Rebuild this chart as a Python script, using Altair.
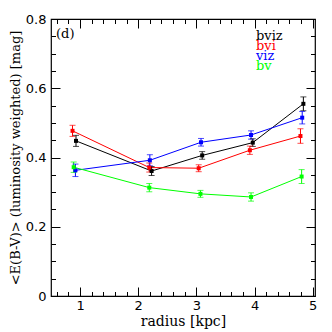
import altair as alt
import pandas as pd

series = ["bviz", "bvi", "viz", "bv"]
colors = ["#000000", "#ff0000", "#0000ff", "#00ff00"]

radius_bviz = [0.93, 2.23, 3.10, 3.97, 4.84]
ebv_bviz = [0.448, 0.361, 0.406, 0.443, 0.555]
err_bviz = [0.016, 0.013, 0.011, 0.011, 0.020]

radius_bvi = [0.87, 2.19, 3.04, 3.92, 4.79]
ebv_bvi = [0.477, 0.371, 0.369, 0.421, 0.462]
err_bvi = [0.016, 0.013, 0.010, 0.012, 0.021]

radius_viz = [0.92, 2.20, 3.08, 3.94, 4.82]
ebv_viz = [0.363, 0.392, 0.444, 0.465, 0.515]
err_viz = [0.018, 0.016, 0.011, 0.012, 0.018]

radius_bv = [0.89, 2.19, 3.07, 3.94, 4.81]
ebv_bv = [0.372, 0.313, 0.295, 0.286, 0.345]
err_bv = [0.015, 0.012, 0.010, 0.012, 0.020]

x_ticks = [round(0.6 + 0.2 * i, 2) for i in range(23)]
y_ticks = [round(0.05 * i, 2) for i in range(17)]

rows = []
for name, rr, yy, ee in [("bviz", radius_bviz, ebv_bviz, err_bviz),
                         ("bvi", radius_bvi, ebv_bvi, err_bvi),
                         ("viz", radius_viz, ebv_viz, err_viz),
                         ("bv", radius_bv, ebv_bv, err_bv)]:
    for i, (r, v, e) in enumerate(zip(rr, yy, ee)):
        rows.append({"series": name, "order": i, "radius": r, "ebv": v,
                     "lo": v - e, "hi": v + e})
df = pd.DataFrame(rows)

FONT = "DejaVu Serif"
xdom = [0.5, 5.04]
ydom = [0.0, 0.8]

x_major = "abs(datum.value - round(datum.value)) < 0.01"
y_major = "abs(datum.value*5 - round(datum.value*5)) < 0.01"

xs = alt.Scale(domain=xdom, nice=False, zero=False)
ys = alt.Scale(domain=ydom, nice=False, zero=False)
cs = alt.Scale(domain=series, range=colors)

x_axis = alt.Axis(values=x_ticks, title="radius [kpc]", grid=False, domain=False,
                  tickSize=alt.ExprRef(f"{x_major} ? -9 : -4.5"), tickColor="black",
                  labelPadding=12, labelFont="DejaVu Sans", labelFontSize=13,
                  labelColor="black",
                  labelExpr=f"{x_major} ? format(datum.value, 'd') : ''",
                  titleFont=FONT, titleFontSize=14, titleFontWeight="normal",
                  titleColor="black", titlePadding=2)
y_axis = alt.Axis(values=y_ticks, title="<E(B-V)> (luminosity weighted) [mag]",
                  grid=False, domain=False,
                  tickSize=alt.ExprRef(f"{y_major} ? -9 : -4.5"), tickColor="black",
                  labelPadding=14, labelFont="DejaVu Sans", labelFontSize=13,
                  labelColor="black",
                  labelExpr=f"{y_major} ? (datum.value == 0 ? '0' : format(datum.value, '.1f')) : ''",
                  titleFont=FONT, titleFontSize=13, titleFontWeight="normal",
                  titleColor="black", titlePadding=3)

base = alt.Chart(df)

lines = base.mark_line(strokeWidth=1).encode(
    x=alt.X("radius:Q", scale=xs, axis=x_axis),
    y=alt.Y("ebv:Q", scale=ys, axis=y_axis),
    color=alt.Color("series:N", scale=cs, legend=None),
    order="order:Q",
    detail="series:N",
)

mirror = base.mark_point(opacity=0).encode(
    x=alt.X("radius:Q", scale=xs, axis=alt.Axis(
        orient="top", values=x_ticks, title=None, labels=False, grid=False, domain=False,
        tickColor="black", tickSize=alt.ExprRef(f"{x_major} ? -9 : -4.5"))),
    y=alt.Y("ebv:Q", scale=ys, axis=alt.Axis(
        orient="right", values=y_ticks, title=None, labels=False, grid=False, domain=False,
        tickColor="black", tickSize=alt.ExprRef(f"{y_major} ? -9 : -4.5"))),
)

bars = base.mark_rule(strokeWidth=1).encode(
    x=alt.X("radius:Q", scale=xs, axis=None),
    y=alt.Y("lo:Q", scale=ys, axis=None),
    y2="hi:Q",
    color=alt.Color("series:N", scale=cs, legend=None),
)
cap_lo = base.mark_tick(orient="horizontal", size=6, thickness=1).encode(
    x=alt.X("radius:Q", scale=xs, axis=None),
    y=alt.Y("lo:Q", scale=ys, axis=None),
    color=alt.Color("series:N", scale=cs, legend=None),
)
cap_hi = base.mark_tick(orient="horizontal", size=6, thickness=1).encode(
    x=alt.X("radius:Q", scale=xs, axis=None),
    y=alt.Y("hi:Q", scale=ys, axis=None),
    color=alt.Color("series:N", scale=cs, legend=None),
)
pts = base.mark_square(size=16, opacity=1, filled=True).encode(
    x=alt.X("radius:Q", scale=xs, axis=None),
    y=alt.Y("ebv:Q", scale=ys, axis=None),
    color=alt.Color("series:N", scale=cs, legend=None),
)

layers = [lines, mirror, bars, cap_lo, cap_hi, pts]

legend_y = [21, 31, 41, 51]
for name, col, yy in zip(series, colors, legend_y):
    layers.append(
        alt.Chart(pd.DataFrame({"t": [name]})).mark_text(
            align="left", baseline="alphabetic", font=FONT, fontSize=13, color=col
        ).encode(text="t:N", x=alt.value(205), y=alt.value(yy))
    )

layers.append(
    alt.Chart(pd.DataFrame({"t": ["(d)"]})).mark_text(
        align="left", baseline="alphabetic", font=FONT, fontSize=13, color="black"
    ).encode(text="t:N", x=alt.value(5), y=alt.value(19))
)

chart = alt.layer(*layers).resolve_axis(x="independent", y="independent").properties(
    width=264, height=277,
    autosize=alt.AutoSizeParams(type="none"),
    padding={"left": 43, "top": 11, "right": 9, "bottom": 40},
    background="white",
).configure_view(stroke="black", strokeWidth=1.2)

chart.save("out.html", embed_options={"renderer": "svg", "actions": False})
